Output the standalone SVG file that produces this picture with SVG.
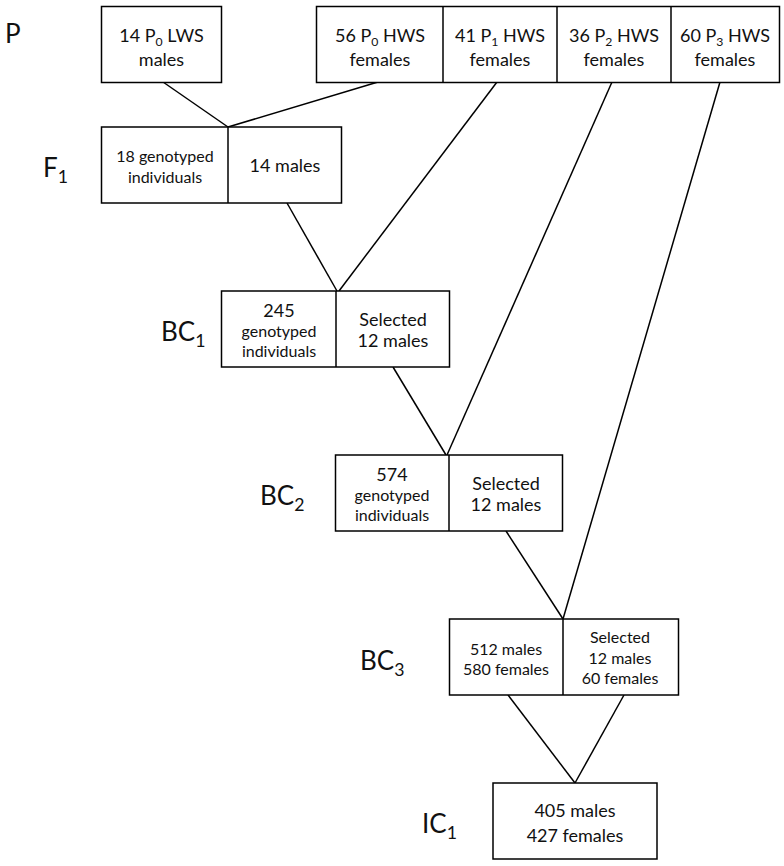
<svg xmlns="http://www.w3.org/2000/svg" width="784" height="866" viewBox="0 0 784 866">
<style>
.box{fill:#fff;stroke:#000;stroke-width:1.5}
.div{stroke:#000;stroke-width:1.5}
.t{font-family:Lato,"Open Sans","Liberation Sans",sans-serif;font-size:18px;fill:#111;text-anchor:middle}
.s{font-size:16px}
.lab{font-family:Lato,"Open Sans","Liberation Sans",sans-serif;font-size:26px;fill:#111}
.sub{font-size:0.68em}
#connectors line{stroke:#000;stroke-width:1.5}
</style>
<rect width="784" height="866" fill="#fff"/>
<g id="connectors">
<line x1="163" y1="82" x2="228" y2="127"/>
<line x1="378" y1="82" x2="228" y2="127"/>
<line x1="497" y1="82" x2="339" y2="291"/>
<line x1="287" y1="203" x2="337" y2="291"/>
<line x1="393" y1="367" x2="446" y2="455"/>
<line x1="612" y1="82" x2="447" y2="455"/>
<line x1="506" y1="531" x2="563" y2="619"/>
<line x1="720" y1="82" x2="563" y2="619"/>
<line x1="508" y1="695" x2="575" y2="783"/>
<line x1="624" y1="695" x2="575" y2="783"/>
</g>
<g id="labels">
<text class="lab" x="5" y="43">P</text>
<text class="lab" x="43" y="177">F<tspan class="sub" dy="6">1</tspan></text>
<text class="lab" x="161" y="341">BC<tspan class="sub" dy="6">1</tspan></text>
<text class="lab" x="260" y="505">BC<tspan class="sub" dy="6">2</tspan></text>
<text class="lab" x="360" y="670">BC<tspan class="sub" dy="6">3</tspan></text>
<text class="lab" x="422" y="833">IC<tspan class="sub" dy="6">1</tspan></text>
</g>
<g id="p-lws">
<rect class="box" x="101.5" y="6.5" width="120" height="76"/>
<text class="t" x="161.5" y="42">14 P<tspan class="sub" dy="4">0</tspan><tspan dy="-4"> LWS</tspan></text>
<text class="t" x="161.5" y="66">males</text>
</g>
<g id="p-hws">
<rect class="box" x="316.5" y="6.5" width="463" height="76"/>
<line class="div" x1="443" y1="6.5" x2="443" y2="82.5"/>
<line class="div" x1="557" y1="6.5" x2="557" y2="82.5"/>
<line class="div" x1="671" y1="6.5" x2="671" y2="82.5"/>
</g>
<g id="p0-hws">
<text class="t" x="380" y="42">56 P<tspan class="sub" dy="4">0</tspan><tspan dy="-4"> HWS</tspan></text>
<text class="t" x="380" y="66">females</text>
</g>
<g id="p1-hws">
<text class="t" x="500" y="42">41 P<tspan class="sub" dy="4">1</tspan><tspan dy="-4"> HWS</tspan></text>
<text class="t" x="500" y="66">females</text>
</g>
<g id="p2-hws">
<text class="t" x="614" y="42">36 P<tspan class="sub" dy="4">2</tspan><tspan dy="-4"> HWS</tspan></text>
<text class="t" x="614" y="66">females</text>
</g>
<g id="p3-hws">
<text class="t" x="725" y="42">60 P<tspan class="sub" dy="4">3</tspan><tspan dy="-4"> HWS</tspan></text>
<text class="t" x="725" y="66">females</text>
</g>
<g id="f1">
<rect class="box" x="101.5" y="127" width="240" height="76"/>
<line class="div" x1="228" y1="127" x2="228" y2="203"/>
<text class="t s" x="165" y="162">18 genotyped</text>
<text class="t s" x="165" y="183">individuals</text>
<text class="t" x="285" y="172">14 males</text>
</g>
<g id="bc1">
<rect class="box" x="221.5" y="291" width="228" height="76"/>
<line class="div" x1="336" y1="291" x2="336" y2="367"/>
<text class="t" x="279" y="317">245</text>
<text class="t s" x="279" y="337">genotyped</text>
<text class="t s" x="279" y="357">individuals</text>
<text class="t" x="393" y="326">Selected</text>
<text class="t" x="393" y="347">12 males</text>
</g>
<g id="bc2">
<rect class="box" x="335.5" y="455" width="227" height="76"/>
<line class="div" x1="449" y1="455" x2="449" y2="531"/>
<text class="t" x="392" y="481">574</text>
<text class="t s" x="392" y="501">genotyped</text>
<text class="t s" x="392" y="521">individuals</text>
<text class="t" x="506" y="490">Selected</text>
<text class="t" x="506" y="511">12 males</text>
</g>
<g id="bc3">
<rect class="box" x="449.5" y="619" width="229" height="76"/>
<line class="div" x1="563" y1="619" x2="563" y2="695"/>
<text class="t s" x="506" y="655">512 males</text>
<text class="t s" x="506" y="675">580 females</text>
<text class="t s" x="620" y="643">Selected</text>
<text class="t s" x="620" y="664">12 males</text>
<text class="t s" x="620" y="684">60 females</text>
</g>
<g id="ic1">
<rect class="box" x="493" y="783" width="164" height="76"/>
<text class="t" x="575" y="817">405 males</text>
<text class="t" x="575" y="842">427 females</text>
</g>
</svg>
